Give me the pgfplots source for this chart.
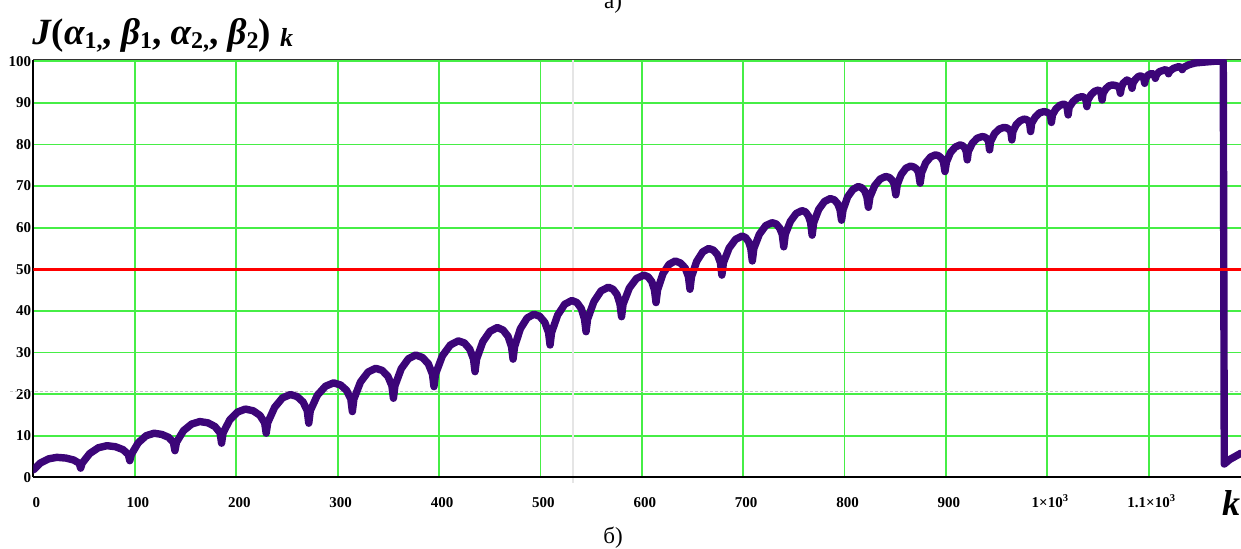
\documentclass[border=0pt]{standalone}
\usepackage{fontspec}
\setmainfont{Liberation Serif}
\usepackage{pgfplots}
\pgfplotsset{compat=1.18}
\definecolor{gridgreen}{RGB}{70,238,70}
\definecolor{curvecol}{RGB}{60,5,120}
\newcommand\sub[1]{\raisebox{-2.3pt}{\fontsize{12}{13}\selectfont #1}}
\begin{document}
\begin{tikzpicture}
\begin{axis}[
  at={(0pt,0pt)}, anchor=south west,
  scale only axis, width=603.75pt, height=208.85pt,
  xmin=0, xmax=1191, ymin=0, ymax=100.4,
  xtick={0,100,...,1100},
  xticklabels={0,100,200,300,400,500,600,700,800,900,1×10\textsuperscript{3},1.1×10\textsuperscript{3}},
  ytick={0,10,...,100},
  yticklabels={0,10,20,30,40,50,60,70,80,90,100},
  tick label style={font=\fontsize{7.5}{9}\selectfont\bfseries},
  xticklabel style={anchor=base, yshift=-15.3pt, xshift=1.5pt},
  yticklabel style={anchor=east, inner xsep=1pt},
  major tick length=0pt,
  grid=major,
  major grid style={draw=gridgreen, line width=0.9pt},
  axis line style={draw=none},
  clip mode=individual,
]
\draw[gray!20, line width=1pt] (axis cs:532,100.4) -- (axis cs:532,-1.4);
\draw[gray!45, line width=0.5pt, dash pattern=on 1.5pt off 1pt] (axis cs:-23,20.6) -- (axis cs:1191,20.6);
\draw[black, line width=1pt] (axis cs:0,0) -- (axis cs:1191,0);
\draw[black, line width=1pt] (axis cs:0,0) -- (axis cs:0,100.4);
\draw[black!80, line width=0.6pt] (axis cs:0,100.4) -- (axis cs:1191,100.4);
\addplot[curvecol, line width=3.7pt, line join=round, line cap=round] coordinates {
(0,1.8) (6.9,3.45) (15,4.44) (23,4.8) (31.8,4.63) (39.5,4.17) (45,3.4)
(46.5,2.2)
(48,3.4) (55.4,5.7) (63.9,7.1) (72.5,7.6) (80.9,7.35) (88.3,6.65) (93.5,5.5)
(95,4.0)
(96.5,5.5) (103.3,8.3) (111.1,10.0) (119,10.6) (126.6,10.3) (133.3,9.6) (138,8.4)
(139.5,6.4)
(141,8.4) (147.9,11.2) (156,12.8) (164,13.4) (172,13.1) (179,12.2) (184,10.7)
(185.5,8.2)
(187,10.7) (193.6,13.8) (201.3,15.7) (209,16.4) (216.6,16.0) (223.3,14.9) (228,13.1)
(229.5,10.6)
(231,13.1) (237.8,16.8) (245.6,19.1) (253.5,19.9) (260.1,19.4) (265.9,18.1) (270,16)
(271.5,13)
(273,16) (279.9,19.7) (288,21.9) (296,22.7) (302.8,22.2) (308.8,20.9) (313,18.8)
(314.5,15.8)
(316,18.8) (322.5,22.9) (330,25.3) (337.5,26.2) (343.9,25.7) (349.5,24.3) (353.5,22)
(355,19)
(356.5,22) (362.7,26.1) (369.8,28.5) (377,29.4) (383.6,28.8) (389.4,27.3) (393.5,24.8)
(395,21.8)
(396.5,24.8) (403.3,29.2) (411.1,31.8) (419,32.8) (425,32.3) (430.3,30.8) (434,28.4)
(435.5,25.4)
(437,28.4) (443.2,32.6) (450.3,35.1) (457.5,36) (463.1,35.4) (468,33.9) (471.5,31.4)
(473,28.4)
(474.5,31.4) (480.2,35.7) (486.9,38.3) (493.5,39.2) (499.3,38.7) (504.4,37.2) (508,34.8)
(509.5,31.8)
(511,34.8) (517,39) (524,41.6) (531,42.5) (536,42) (540.4,40.5) (543.5,38)
(545,35)
(546.5,38) (552.7,42.2) (559.8,44.8) (567,45.7) (571.6,45.2) (575.6,43.9) (578.5,41.6)
(580,38.6)
(581.5,41.6) (587.7,45.5) (594.8,47.8) (602,48.6) (606.2,48.2) (609.9,47.0) (612.5,45)
(614,42)
(615.5,45) (620.8,48.9) (626.9,51.2) (633,52) (638.2,51.5) (642.8,50.3) (646,48.2)
(647.5,45.2)
(649,48.2) (654.1,51.9) (660.1,54.2) (666,55) (670.6,54.6) (674.6,53.5) (677.5,51.6)
(679,48.6)
(680.5,51.6) (686.1,55.1) (692.5,57.2) (699,58) (702.4,57.6) (705.4,56.6) (707.5,55)
(709,52)
(710.5,55) (715.9,58.4) (722.2,60.5) (728.5,61.2) (732.5,60.9) (736,59.9) (738.5,58.4)
(740,55.4)
(741.5,58.4) (746.5,61.5) (752.2,63.4) (758,64.1) (761.4,63.8) (764.4,62.8) (766.5,61.2)
(768,58.2)
(769.5,61.2) (774.5,64.4) (780.2,66.3) (786,67) (789.8,66.7) (793.1,65.8) (795.5,64.3)
(797,61.8)
(798.5,64.3) (803,67.4) (808.3,69.2) (813.5,69.9) (816.9,69.6) (819.9,68.8) (822,67.4)
(823.5,64.9)
(825,67.4) (829.7,70.1) (835.1,71.7) (840.5,72.3) (843.9,72.1) (846.9,71.4) (849,70.4)
(850.5,67.9)
(852,70.4) (855.9,72.8) (860.5,74.3) (865,74.8) (868.2,74.6) (871,74.1) (873,73.2)
(874.5,70.7)
(876,73.2) (880,75.6) (884.8,77) (889.5,77.5) (892.7,77.3) (895.5,76.7) (897.5,75.8)
(899,73.5)
(900.5,75.8) (904.5,78.1) (909.3,79.4) (914,79.9) (916.4,79.7) (918.5,79.2) (920,78.3)
(921,76.3)
(922,78.3) (926,80.3) (930.8,81.5) (935.5,81.9) (938.1,81.8) (940.4,81.4) (942,80.7)
(943,78.7)
(944,80.7) (947.9,82.6) (952.5,83.7) (957,84.1) (959.8,84.0) (962.3,83.6) (964,83.1)
(965,81.1)
(966,83.1) (969.3,84.8) (973.2,85.7) (977,86.1) (979.2,86.0) (981.1,85.7) (982.5,85.1)
(983.5,83.1)
(984.5,85.1) (988.1,86.6) (992.3,87.6) (996.5,87.9) (999.1,87.8) (1001.4,87.5) (1003,87.1)
(1004,85.3)
(1005,87.1) (1008.3,88.5) (1012.2,89.4) (1016,89.7) (1017.4,89.6) (1018.6,89.3) (1019.5,88.9)
(1020.5,87.1)
(1021.5,88.9) (1025.3,90.3) (1029.6,91.2) (1034,91.5) (1035.6,91.4) (1037,91.1) (1038,90.7)
(1039,89.1)
(1040,90.7) (1043.2,92) (1046.8,92.8) (1050.5,93.1) (1052,92.8) (1053,92.3)
(1054,90.7)
(1055,92.3) (1057.7,93.4) (1060.9,94.1) (1064,94.3) (1066.8,94.2) (1069.3,94.0) (1071,93.7)
(1072,92.3)
(1073,93.7) (1074.7,94.7) (1078.5,95.5) (1080.1,95.3) (1082.5,94.8)
(1083.5,93.5)
(1084.5,94.8) (1087,95.7) (1089.5,96.3) (1092,96.5) (1093.5,96.3) (1095,95.9)
(1096,94.7)
(1097,95.9) (1099.5,96.7) (1103,97.1) (1105.5,96.7)
(1106.5,95.9)
(1107.5,96.7) (1110.5,97.5) (1116.5,98) (1118.8,97.6)
(1119.5,97)
(1120.5,97.6) (1124.5,98.3) (1129.5,98.7) (1132.2,98.5)
(1133,98)
(1134,98.5) (1140,99.2) (1146,99.6) (1155,99.8) (1165,100) (1173.5,100)
(1174.5,3.2) (1180,4.3) (1191,5.8)
};
\addplot[red, line width=1.75pt] coordinates {(0,50) (1191,50)};
\end{axis}
\node[anchor=base west, inner sep=0pt] at (-0.75pt,216.65pt)
  {\fontsize{18.5}{22}\selectfont\bfseries\itshape J\/{\upshape(}α{\upshape\sub{1,},} β{\upshape\sub{1},} α{\upshape\sub{2,},} β{\upshape\sub{2})}\ \raisebox{-1pt}{\fontsize{13}{15}\selectfont k}};
\node[anchor=base east, inner sep=0pt, font=\fontsize{18}{20}\selectfont\bfseries\itshape] at (603.5pt,-18.85pt) {k};
\node[anchor=base, inner sep=0pt, font=\fontsize{11.5}{13}\selectfont] at (289.75pt,-32.85pt) {б)};
\node[anchor=base, inner sep=0pt, font=\fontsize{11.5}{13}\selectfont] at (289.75pt,234.65pt) {а)};
\pgfresetboundingbox
\useasboundingbox (-16.75pt,-35.35pt) rectangle (603.75pt,238.65pt);
\end{tikzpicture}
\end{document}
